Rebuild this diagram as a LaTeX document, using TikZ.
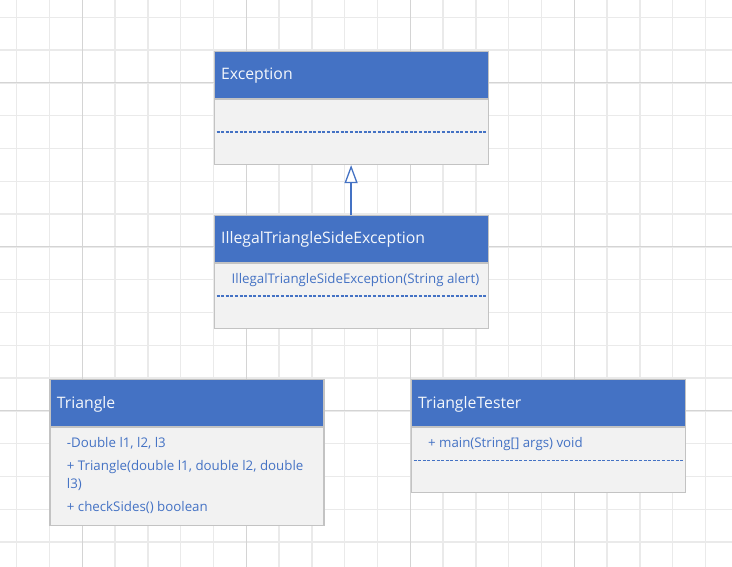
\documentclass[tikz,border=0pt]{standalone}
\usepackage{fontspec}
\setmainfont{Open Sans}
\usetikzlibrary{positioning, arrows.meta}
\definecolor{umlblue}{HTML}{4472C4}
\definecolor{umlbody}{HTML}{F2F2F2}
\definecolor{umledge}{HTML}{C3C3C3}
\definecolor{gridminor}{HTML}{EAEAEA}
\definecolor{gridmajor}{HTML}{D4D4D4}

\begin{document}
\begin{tikzpicture}[x=1pt, y=-1pt,
  gridline/.style={draw=gridminor, line width=1.3pt},
  gridbold/.style={draw=gridmajor, line width=1.3pt},
  head/.style={fill=umlblue, draw=umledge, line width=1.2pt, minimum height=47pt,
    text width=260pt, inner xsep=7pt, align=left, text=white!94!umlblue,
    text height=12pt, text depth=2pt, font=\fontsize{15.8}{18}\selectfont},
  body/.style={fill=umlbody, draw=umledge, line width=1.2pt, minimum width=274pt},
  member/.style={text=umlblue, inner sep=0pt, align=left,
    font=\fontsize{13.3}{18.3}\selectfont},
  dashsep/.style={umlblue, line width=1.4pt, dash pattern=on 3pt off 1.6pt},
  inherit/.style={draw=umlblue, line width=1.3pt, -{Triangle[width=13pt, length=18pt, fill=white]}}]
\useasboundingbox (0,0) rectangle (732,567);
\fill[white] (0,0) rectangle (732,567);
% background grid
\foreach \i in {0,...,21} \draw[gridline] ({16.7+32.8*\i},0) -- ++(0,567);
\foreach \j in {0,...,16} \draw[gridline] (0,{17.3+32.8*\j}) -- ++(732,0);
\foreach \i in {0,...,3} \draw[gridbold] ({82.3+164*\i},0) -- ++(0,567);
\foreach \j in {0,...,2} \draw[gridbold] (0,{82.7+164*\j}) -- ++(732,0);

% class Exception
\node[head, anchor=north west] (exc) at (213.5,50.7) {Exception};
\node[body, minimum height=65pt, below=0pt of exc] (excbody) {};
\draw[dashsep] ([xshift=3pt, yshift=-33pt]excbody.north west) -- ([xshift=-3pt, yshift=-33pt]excbody.north east);

% class IllegalTriangleSideException
\node[head, anchor=north west] (ill) at (213.5,214.7) {IllegalTriangleSideException};
\node[body, minimum height=64.7pt, below=0pt of ill] (illbody) {};
\node[member, anchor=west] (illctor) at ([xshift=18pt, yshift=-17.3pt]illbody.north west) {IllegalTriangleSideException(String alert)};
\draw[dashsep] ([xshift=3pt, yshift=-33pt]illbody.north west) -- ([xshift=-3pt, yshift=-33pt]illbody.north east);

% class Triangle
\node[head, anchor=north west] (tri) at (49.3,379) {Triangle};
\node[body, minimum height=98pt, below=0pt of tri] (tribody) {};
\node[member, anchor=north west] (trimembers) at ([xshift=17.4pt, yshift=-10pt]tribody.north west)
  {-Double l1, l2, l3\\[4.8pt]+ Triangle(double l1, double l2, double\\l3)\\[4pt]+ checkSides() boolean};

% class TriangleTester
\node[head, anchor=north west] (tester) at (410.5,379) {TriangleTester};
\node[body, minimum height=64.7pt, below=0pt of tester] (testerbody) {};
\node[member, anchor=west] (testermain) at ([xshift=17.4pt, yshift=-17.3pt]testerbody.north west) {+ main(String[] args) void};
\draw[dashsep] ([xshift=3pt, yshift=-33pt]testerbody.north west) -- ([xshift=-3pt, yshift=-33pt]testerbody.north east);

% generalisation
\draw[inherit] (ill.north) -- (excbody.south);
\end{tikzpicture}
\end{document}
